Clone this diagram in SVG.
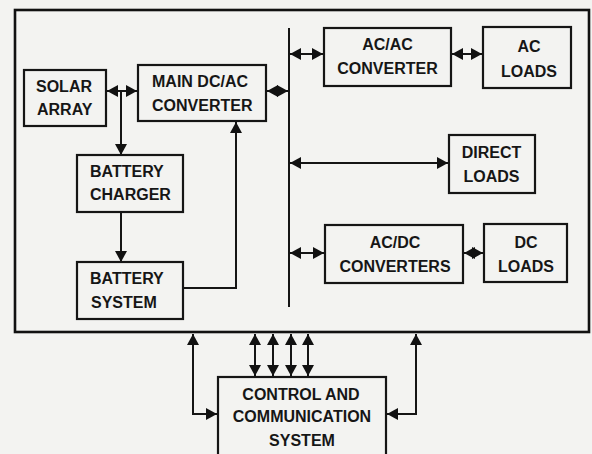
<svg xmlns="http://www.w3.org/2000/svg" width="592" height="454" viewBox="0 0 592 454">
<defs>
<style>
.box{fill:none;stroke:#151515;stroke-width:2.2}
.frame{fill:none;stroke:#111;stroke-width:2.6}
.ln{fill:none;stroke:#151515;stroke-width:2}
text{font-family:"Liberation Sans",Arial,sans-serif;font-weight:bold;font-size:16px;fill:#161616}
.c{text-anchor:middle}
</style>
<marker id="ah" markerUnits="userSpaceOnUse" markerWidth="14" markerHeight="14" viewBox="0 0 14 14" refX="12" refY="7" orient="auto-start-reverse">
<path d="M1,1 L12,7 L1,13 Z" fill="#111"/>
</marker>
</defs>
<rect width="592" height="454" fill="#f3f3f1"/>
<rect class="frame" x="15" y="10" width="574" height="322"/>

<g id="connectors">
<path class="ln" d="M107,91 H137" marker-start="url(#ah)" marker-end="url(#ah)"/>
<path class="ln" d="M121,92 V155" marker-end="url(#ah)"/>
<path class="ln" d="M121,212 V262" marker-end="url(#ah)"/>
<path class="ln" d="M183,288 H236 V122" marker-end="url(#ah)"/>
<path class="ln" d="M267,91 H288" marker-start="url(#ah)" marker-end="url(#ah)"/>
<path class="ln" d="M289,28 V307"/>
<path class="ln" d="M290,54 H323" marker-start="url(#ah)" marker-end="url(#ah)"/>
<path class="ln" d="M452,54 H482" marker-start="url(#ah)" marker-end="url(#ah)"/>
<path class="ln" d="M290,163 H448" marker-start="url(#ah)" marker-end="url(#ah)"/>
<path class="ln" d="M290,253 H324" marker-start="url(#ah)" marker-end="url(#ah)"/>
<path class="ln" d="M464,253 H483" marker-start="url(#ah)" marker-end="url(#ah)"/>
<path class="ln" d="M255,334 V376" marker-start="url(#ah)" marker-end="url(#ah)"/>
<path class="ln" d="M273,334 V376" marker-start="url(#ah)" marker-end="url(#ah)"/>
<path class="ln" d="M291,334 V376" marker-start="url(#ah)" marker-end="url(#ah)"/>
<path class="ln" d="M308,334 V376" marker-start="url(#ah)" marker-end="url(#ah)"/>
<path class="ln" d="M193,334 V414 H217" marker-start="url(#ah)" marker-end="url(#ah)"/>
<path class="ln" d="M416,334 V414 H387" marker-start="url(#ah)" marker-end="url(#ah)"/>
</g>

<g id="solar-array">
<rect class="box" x="24" y="70" width="82" height="56"/>
<text x="36" y="92">SOLAR</text>
<text x="37" y="115">ARRAY</text>
</g>
<g id="main-dcac-converter">
<rect class="box" x="138" y="65" width="128" height="56"/>
<text x="152" y="87">MAIN DC/AC</text>
<text x="152" y="111">CONVERTER</text>
</g>
<g id="battery-charger">
<rect class="box" x="77" y="155" width="106" height="57"/>
<text x="90" y="177">BATTERY</text>
<text x="90" y="200">CHARGER</text>
</g>
<g id="battery-system">
<rect class="box" x="77" y="262" width="106" height="57"/>
<text x="90" y="284">BATTERY</text>
<text x="91" y="308">SYSTEM</text>
</g>
<g id="acac-converter">
<rect class="box" x="324" y="28" width="127" height="58"/>
<text class="c" x="387.5" y="50">AC/AC</text>
<text class="c" x="387.5" y="74">CONVERTER</text>
</g>
<g id="ac-loads">
<rect class="box" x="483" y="27" width="88" height="61"/>
<text class="c" x="529" y="52">AC</text>
<text class="c" x="529" y="77">LOADS</text>
</g>
<g id="direct-loads">
<rect class="box" x="449" y="135" width="86" height="58"/>
<text class="c" x="491.5" y="158">DIRECT</text>
<text class="c" x="491.5" y="182">LOADS</text>
</g>
<g id="acdc-converters">
<rect class="box" x="325" y="225" width="138" height="58"/>
<text class="c" x="395" y="248">AC/DC</text>
<text class="c" x="395" y="272">CONVERTERS</text>
</g>
<g id="dc-loads">
<rect class="box" x="484" y="224" width="83" height="58"/>
<text class="c" x="526" y="248">DC</text>
<text class="c" x="526" y="272">LOADS</text>
</g>
<g id="control-communication-system">
<rect class="box" x="218" y="377" width="168" height="90"/>
<text class="c" x="301" y="400">CONTROL AND</text>
<text class="c" x="302" y="422">COMMUNICATION</text>
<text class="c" x="302" y="446">SYSTEM</text>
</g>
</svg>
